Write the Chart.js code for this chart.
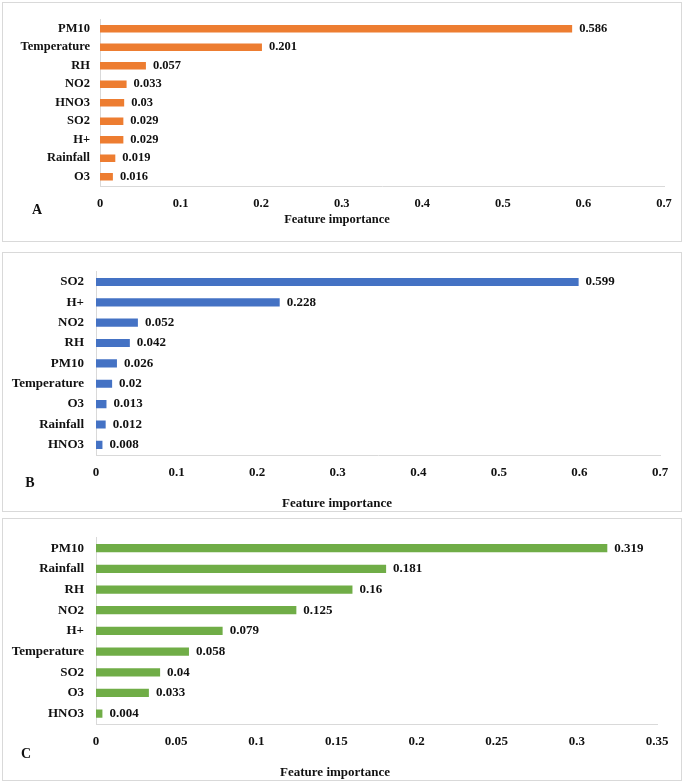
<!DOCTYPE html>
<html>
<head>
<meta charset="utf-8">
<script src="https://cdn.jsdelivr.net/npm/chart.js@4.4.0/dist/chart.umd.min.js"></script>
<style>
  body { margin: 0; background: #fff; width: 685px; height: 782px; position: relative; overflow: hidden; }
  .box { position: absolute; border: 1px solid #d9d9d9; box-sizing: border-box; }
  canvas { position: absolute; }
</style>
</head>
<body>
<div class="box" style="left:2px;top:2px;width:680px;height:240px"></div>
<div class="box" style="left:2px;top:252px;width:680px;height:260px"></div>
<div class="box" style="left:2px;top:518px;width:680px;height:263px"></div>
<canvas id="chartA" width="680" height="240" style="left:2px;top:2px"></canvas>
<canvas id="chartB" width="680" height="260" style="left:2px;top:252px"></canvas>
<canvas id="chartC" width="680" height="263" style="left:2px;top:518px"></canvas>
<script>
// panel A
const labelsA = ['PM10', 'Temperature', 'RH', 'NO2', 'HNO3', 'SO2', 'H+', 'Rainfall', 'O3'];
const valuesA = [0.586, 0.201, 0.057, 0.033, 0.03, 0.029, 0.029, 0.019, 0.016];
const ticksA = [0, 0.1, 0.2, 0.3, 0.4, 0.5, 0.6, 0.7];
// panel B
const labelsB = ['SO2', 'H+', 'NO2', 'RH', 'PM10', 'Temperature', 'O3', 'Rainfall', 'HNO3'];
const valuesB = [0.599, 0.228, 0.052, 0.042, 0.026, 0.02, 0.013, 0.012, 0.008];
const ticksB = [0, 0.1, 0.2, 0.3, 0.4, 0.5, 0.6, 0.7];
// panel C
const labelsC = ['PM10', 'Rainfall', 'RH', 'NO2', 'H+', 'Temperature', 'SO2', 'O3', 'HNO3'];
const valuesC = [0.319, 0.181, 0.16, 0.125, 0.079, 0.058, 0.04, 0.033, 0.004];
const ticksC = [0, 0.05, 0.1, 0.15, 0.2, 0.25, 0.3, 0.35];

const axisTitle = 'Feature importance';
const serif = "'Liberation Serif', 'Times New Roman', serif";

function makeChart(id, labels, values, ticks, color, letter, g) {
    const canvas = document.getElementById(id);
    const cw = canvas.width, ch = canvas.height;
    const xAxisH = 30;
    const extras = {
        id: 'extras_' + id,
        afterDatasetsDraw(chart) {
            const ctx = chart.ctx;
            ctx.save();
            ctx.fillStyle = '#111';
            ctx.font = 'bold ' + g.font + 'px ' + serif;
            ctx.textBaseline = 'middle';
            ctx.textAlign = 'left';
            chart.getDatasetMeta(0).data.forEach((bar, i) => {
                ctx.fillText(String(values[i]), bar.x + 7, bar.y);
            });
            ctx.textAlign = 'center';
            ctx.fillText(axisTitle, g.titleX - g.x, g.titleY - g.y);
            ctx.font = 'bold 14px ' + serif;
            ctx.fillText(letter, g.letterX - g.x, g.letterY - g.y);
            ctx.restore();
        }
    };
    return new Chart(canvas, {
        type: 'bar',
        data: {
            labels: labels,
            datasets: [{
                data: values,
                backgroundColor: color,
                barPercentage: 0.4,
                categoryPercentage: 1
            }]
        },
        options: {
            indexAxis: 'y',
            responsive: false,
            animation: false,
            layout: {
                padding: {
                    left: 0,
                    top: g.top - g.y,
                    right: g.x + cw - g.right,
                    bottom: g.y + ch - g.bottom - xAxisH
                }
            },
            plugins: { legend: { display: false }, tooltip: { enabled: false } },
            scales: {
                x: {
                    min: 0,
                    max: ticks[ticks.length - 1],
                    afterBuildTicks: s => { s.ticks = ticks.map(v => ({ value: v })); },
                    afterFit: s => { s.height = xAxisH; },
                    grid: { display: false, drawTicks: false },
                    border: { display: true, color: '#d9d9d9', width: 1 },
                    ticks: {
                        padding: g.tickPad,
                        color: '#111',
                        font: { family: serif, size: g.font, weight: 'bold' },
                        callback: v => String(v)
                    }
                },
                y: {
                    afterFit: s => { s.width = g.left - g.x; },
                    grid: { display: false, drawTicks: false },
                    border: { display: true, color: '#d9d9d9', width: 1 },
                    ticks: {
                        padding: g.labelPad,
                        color: '#111',
                        font: { family: serif, size: g.font, weight: 'bold' }
                    }
                }
            }
        },
        plugins: [extras]
    });
}

makeChart('chartA', labelsA, valuesA, ticksA, '#ED7D31', 'A', {
    x: 2, y: 2, left: 100, right: 664, top: 15, bottom: 186,
    font: 12.5, tickPad: 10, labelPad: 10,
    titleX: 337, titleY: 220, letterX: 37, letterY: 210
});
makeChart('chartB', labelsB, valuesB, ticksB, '#4472C4', 'B', {
    x: 2, y: 252, left: 96, right: 660, top: 265, bottom: 455,
    font: 13, tickPad: 10, labelPad: 12,
    titleX: 337, titleY: 504, letterX: 30, letterY: 483
});
makeChart('chartC', labelsC, valuesC, ticksC, '#70AD47', 'C', {
    x: 2, y: 518, left: 96, right: 657, top: 535, bottom: 724,
    font: 13, tickPad: 10, labelPad: 12,
    titleX: 335, titleY: 773, letterX: 26, letterY: 754
});
</script>
</body>
</html>
